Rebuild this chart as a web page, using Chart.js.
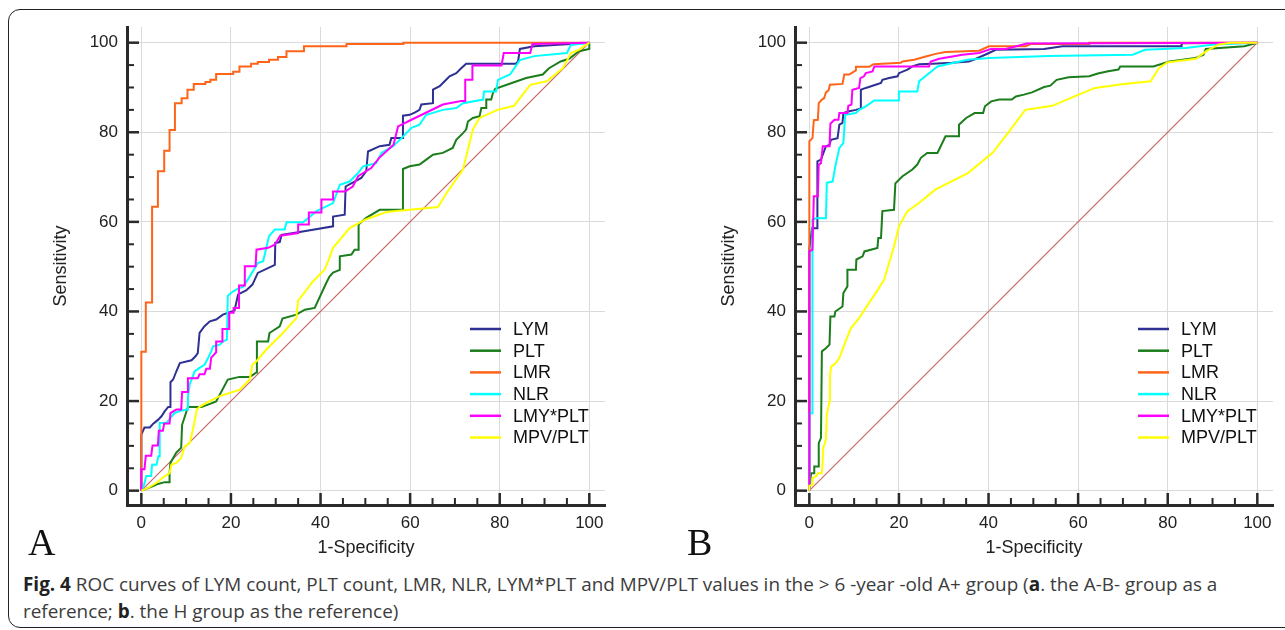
<!DOCTYPE html>
<html>
<head>
<meta charset="utf-8">
<title>ROC curves</title>
<script src="https://cdn.jsdelivr.net/npm/chart.js@4.4.1/dist/chart.umd.min.js"></script>
<style>
    html, body { margin: 0; padding: 0; width: 1285px; height: 630px; overflow: hidden; background: #fff; }
    .frame { position: absolute; left: 8px; top: 9px; width: 1320px; height: 617px; border: 1.5px solid #222; border-radius: 12px; }
    canvas { position: absolute; top: 0; }
    #chartA { left: 0; }
    #chartB { left: 668px; }
    .panel { position: absolute; top: 523px; font-family: "Liberation Serif", "Times New Roman", serif; font-size: 38px; line-height: 1; color: #111; }
    .caption { position: absolute; left: 23px; top: 571px; font-family: "Open Sans", "Noto Sans", sans-serif; font-size: 18.9px; line-height: 26.7px; color: #3c3c3c; white-space: nowrap; }
    .caption b { color: #222; }
</style>
</head>
<body>
<div class="frame"></div>
<canvas id="chartA" width="640" height="563"></canvas>
<canvas id="chartB" width="617" height="563"></canvas>
<div class="panel" style="left:28px">A</div>
<div class="panel" style="left:687px">B</div>
<div class="caption"><b>Fig. 4</b> ROC curves of LYM count, PLT count, LMR, NLR, LYM*PLT and MPV/PLT values in the &gt; 6 -year -old A+ group (<b>a</b>. the A-B- group as a<br>reference; <b>b</b>. the H group as the reference)</div>

<script>
    var tickValues = [0, 20, 40, 60, 80, 100];
    var seriesNames = ['LYM', 'PLT', 'LMR', 'NLR', 'LMY*PLT', 'MPV/PLT'];
    var seriesColors = ['#2e3192', '#1b7d1b', '#ff6519', '#00ffff', '#ff00ff', '#ffff00'];
    var diagonal = [[0, 0], [100, 100]];

    // panel A: A+ vs A-B-
    var lymA = [[0,0],[0,12.5],[0.7,14.1],[1.9,14.1],[2.6,14.9],[3.7,15.8],[4.5,16.6],[5.2,17.7],[6,18.7],[6.5,18.7],[6.5,24.2],[7.1,24.8],[7.8,26.6],[8.6,28.5],[11.2,29.1],[12.1,30],[12.6,30.7],[13,35.2],[14.1,36.7],[15.3,37.8],[16.7,38.2],[18.2,39.3],[19.6,39.8],[20.8,40.2],[21.6,43.8],[23.4,44.7],[24.8,46],[26,48.6],[29.8,50.4],[29.9,55.3],[30.9,55.5],[31.3,57.1],[35,57.7],[42.8,59],[42.8,61.2],[45.4,61.6],[45.6,67.9],[47.6,69],[49.1,69.8],[50.2,71.3],[50.6,75.7],[53.2,76.9],[55.4,77.2],[55.8,78.7],[58.4,78.7],[58.4,83.7],[59.9,83.9],[61,84.4],[62.1,85],[62.5,86.2],[65.1,86.5],[65.1,89.5],[66.6,90.3],[67.7,91.4],[68.8,92.5],[70.3,93.2],[71.4,94.3],[72.5,95.3],[83.6,95.3],[84.1,95.8],[84.5,98.6],[87.7,99.2],[95.9,99.7],[100,100]];
    var pltA = [[0,0],[1.1,0.4],[2.6,1],[3.7,1.5],[5.2,1.9],[6.3,1.9],[6.3,3.9],[6.5,6.2],[7.8,8.5],[8.9,9.6],[9.1,14.7],[10.4,18.7],[13.4,18.7],[14.9,19.2],[16.7,19.9],[19.3,24.8],[21.9,25.4],[24.2,25.4],[25.7,26.4],[25.8,33.3],[28.3,33.3],[28.6,35.2],[30.9,36.7],[31.5,38.4],[34.6,39.3],[36.5,40.4],[38.7,40.8],[41.3,46.4],[42,47.8],[42.8,48.7],[44.3,49.3],[44.3,52.3],[46.9,52.7],[47.6,53.8],[48.5,53.8],[48.5,59.4],[50.2,60.9],[53.2,62.7],[58.4,62.7],[58.4,71.8],[59.9,72.4],[62.1,72.8],[63.6,73.9],[65.1,75],[67.3,75.4],[69.5,76.5],[70.3,78.3],[71.8,79.8],[72.5,80.6],[72.9,82.4],[74,83.2],[75.5,83.6],[75.9,85.4],[77,85.4],[77,87.3],[78.1,87.3],[78.5,88.8],[79,89.7],[82.7,91],[85.9,92.1],[89.6,92.9],[91,94.3],[93.6,95.8],[95.5,96.4],[97.7,98.1],[100,98.6],[100,100]];
    var lmrA = [[0,0],[0,31],[1,31],[1,42],[2.4,42],[2.4,63.4],[3.7,63.4],[3.7,71.3],[5.1,71.3],[5.1,75.9],[6.3,75.9],[6.3,80.5],[7.5,80.5],[7.5,86.5],[9,86.5],[9,87.6],[10.3,87.6],[10.3,89.5],[11.7,89.5],[11.7,90.8],[14.3,90.8],[14.3,91.2],[15.4,91.2],[15.4,91.7],[16.7,91.7],[16.7,93],[20.5,93],[20.5,93.5],[21.9,93.5],[21.9,94.7],[24.5,94.7],[24.5,95.3],[26,95.3],[26,95.7],[28.5,95.7],[28.5,96.2],[30.5,96.2],[30.5,96.8],[32.4,96.8],[32.4,98.1],[36.3,98.1],[36.3,99.2],[45.8,99.2],[45.8,99.7],[58.5,99.7],[58.5,100],[100,100]];
    var nlrA = [[0,0],[0.6,1.3],[1.1,3.3],[2.2,3.3],[2.4,5.8],[3.4,5.8],[3.8,7.7],[4.1,7.7],[4.1,15.1],[5.6,15.1],[6.7,16.5],[7.4,17.3],[8.9,17.9],[10.4,18.1],[10.4,21],[10.8,23.7],[11.9,26.6],[13,27.4],[14.1,28.1],[14.9,29.6],[15.6,31.1],[16,32.2],[17.5,32.6],[18.2,33.3],[19.1,33.7],[19.3,43.5],[20.5,44.5],[21.6,45.1],[22.7,45.5],[24,47.5],[26,50.8],[27.2,51.2],[28.5,56.8],[29.8,58.3],[32,58.3],[32.4,59.9],[36.1,59.9],[39.1,62.4],[42.8,64.2],[44.3,68.3],[46.5,69],[48.4,70.9],[49.5,72.4],[52.4,73.1],[53.6,75.4],[56.2,76.9],[57.7,78.3],[60.3,81],[62.1,81.7],[63.6,83.9],[67.3,85],[70.3,85.4],[71.8,86.5],[76.3,87.3],[76.5,89.1],[79.2,89.1],[79.6,91.7],[82.3,92.9],[84.5,96.1],[87.7,97],[95,97.7],[95.9,99.5],[100,100]];
    var lmyPltA = [[0,0],[0,4.8],[0.7,4.8],[1,7.8],[2.2,7.8],[2.5,10.1],[3.7,10.1],[3.9,13.4],[4.8,13.4],[5.1,15],[6.3,15],[6.5,17.3],[7.8,18.1],[8.9,18.1],[9.1,22],[10.2,22],[10.4,25.1],[12.6,25.1],[13,26],[14.1,26],[14.5,27.2],[15.3,27.2],[15.6,29.7],[16.7,30.9],[16.7,33.3],[18.1,33.3],[18.1,36.1],[19.6,36.1],[19.6,39.7],[20.6,39.7],[20.6,40.8],[21.8,40.8],[21.8,45.8],[23.1,45.8],[23.1,50.1],[25.5,50.1],[25.7,53.8],[28.3,54.2],[29.8,54.9],[31,56.9],[35,57.5],[35,59.4],[37.4,59.4],[37.4,62.1],[40.2,62.1],[40.2,65],[42.8,65],[42.8,66.8],[45.5,66.8],[47.2,67.9],[48.4,70.2],[51.3,72],[53.1,74.3],[56.3,77.2],[57.3,81.3],[60.3,82.8],[67.3,86.2],[71.4,87],[72.3,87],[72.3,91.7],[73.9,91.7],[73.9,94.9],[80.4,94.9],[80.9,97.7],[86.8,97.7],[87.3,99.7],[100,100]];
    var mpvPltA = [[0,0],[1.5,0.6],[3.3,1.7],[5.2,3.2],[6.3,3.9],[6.7,5.8],[7.8,6.2],[8.9,7.3],[9.7,9.9],[10.8,10.6],[11.5,13.6],[12.4,18.1],[13,18.7],[14.5,19.6],[17.5,21.1],[21.9,22.5],[24.2,24.8],[24.8,28.1],[25.7,28.9],[27.9,31.5],[31.6,35.2],[34.6,38.5],[35,42.4],[38.3,46.7],[40.9,49.3],[42,52],[42.8,54.2],[46.5,58.6],[50.2,60.6],[54.7,62.2],[66.2,63.3],[68.1,66.4],[71.8,71.7],[74,80.6],[75.5,83.2],[79.5,85],[83.2,85.9],[86.8,90.6],[90.5,91.4],[94.1,94.3],[95.9,97.7],[97.7,98.4],[100,100]];

    // panel B: A+ vs H
    var lymB = [[0,0],[0,54],[0.6,58.6],[1.8,58.6],[1.8,73.5],[2.6,73.9],[3.7,76.9],[4.5,77.2],[4.8,78.3],[6.3,78.7],[6.7,81.7],[7.4,82.1],[7.6,84.3],[8.9,84.7],[10.4,85],[11.5,85.3],[11.5,89.5],[12.6,89.9],[14.8,90.6],[16,91],[16.3,91.7],[17.8,92.1],[19.7,92.5],[20,93.2],[21.9,94],[23,94.7],[24.5,95.2],[27.5,95.3],[31.9,95.5],[35.6,95.8],[36.7,96.2],[40.1,97.7],[41.6,98.4],[52.4,98.6],[56.5,99.2],[83.1,99.2],[83.1,99.9],[100,100]];
    var pltB = [[0,0],[0.4,3.9],[1.1,3.9],[1.1,5.4],[2.1,5.4],[2.1,10.6],[2.6,11.8],[2.8,31.1],[3.7,31.8],[4.5,32.6],[4.7,38.9],[5.6,38.9],[5.8,40],[7.4,41.1],[7.6,44.1],[8.5,45.6],[8.5,49.3],[10.4,49.3],[10.5,51.6],[11.9,52.3],[12.3,53.4],[15.2,54.2],[15.4,56.4],[16,56.4],[16.3,62.4],[18.9,62.7],[19.2,68.6],[20.8,70.2],[23,71.7],[24.1,72.8],[24.9,74.3],[26.3,75.4],[28.6,75.4],[30.4,79.1],[33.2,79.1],[33.4,81.7],[35,83.2],[36.9,84.3],[38.8,84.3],[39.2,85.8],[40.6,86.9],[42.4,87.3],[45.2,87.3],[46.1,88],[47.9,88.4],[49.7,88.9],[52.4,90.1],[53.8,90.4],[55.2,91.7],[57.9,92.3],[62.5,92.5],[64.4,93.1],[66.7,93.6],[69,94],[69.4,94.7],[76.8,94.7],[80.4,95.8],[86.2,96.6],[88,97.3],[88.5,98.6],[97.1,99.2],[100,100]];
    var lmrB = [[0,0],[0,78],[0.7,78.7],[1,82.7],[1.9,82.8],[2.1,86.5],[2.8,87.3],[3.3,87.6],[3.7,88.9],[4.3,89.4],[4.6,90.6],[7.4,90.8],[7.8,92.9],[8.9,92.9],[10.4,93.8],[10.4,94.6],[13.4,94.6],[14.3,95.2],[20.4,95.5],[20.8,95.8],[23.4,96.2],[26,96.9],[28.2,97.5],[30.4,97.9],[37.9,98.2],[40.1,99.2],[48.3,99.2],[49.4,99.7],[62.5,99.7],[62.5,100],[100,100]];
    var nlrB = [[0,0],[0,17.3],[0.7,17.3],[0.7,60.5],[1.5,60.8],[3.7,60.8],[3.9,68.7],[5.2,69],[5.8,72.4],[6.7,76.5],[7.6,77.6],[8,83.9],[10.4,84.3],[11.1,85],[12.6,85.8],[14.5,87.1],[20,87.1],[20,89.1],[24.1,89.1],[24.5,91.4],[28.6,94.7],[35.3,96.2],[40.1,96.6],[53.5,97],[72.2,97.3],[74.9,98.4],[84,98.8],[90.4,99.6],[97.7,99.9],[100,100]];
    var lmyPltB = [[0,0],[0,53.4],[0.7,53.8],[1,65.7],[1.9,65.7],[2.1,72.8],[2.6,73.1],[3,76.9],[4.5,76.9],[4.7,81.9],[5.6,82.8],[6.5,82.8],[6.7,84.3],[8.5,84.3],[8.7,85.9],[9.4,86.2],[9.6,89.5],[11.1,89.9],[11.4,92.1],[12.2,92.5],[12.6,93.2],[14.1,93.6],[14.5,94.7],[26.7,94.7],[27.1,95.8],[29,96.4],[34.2,97.3],[37.9,97.7],[40.5,98.6],[43.8,98.6],[48.6,99.8],[100,100]];
    var mpvPltB = [[0,0],[0,1.1],[0.7,1.3],[0.7,2.8],[1.5,3.2],[1.9,3.9],[2.8,3.9],[3,6.9],[3.1,9.5],[3.7,11.4],[3.9,17],[4.5,19.9],[4.6,25.1],[4.8,27.6],[5.9,28.5],[6.7,29.6],[7.8,32.6],[9.3,36.3],[11.1,38.5],[12.6,40.8],[14.8,44.1],[16.7,47.1],[18.9,54.5],[20,59],[21.9,62.4],[24.5,64.2],[28.1,67.2],[35.4,70.9],[40.9,75.4],[44.6,80.2],[48.2,85],[54.2,85.9],[59.2,88],[63.8,89.9],[70.2,90.8],[76.2,91.4],[78,94.3],[79.9,95.6],[86.3,96.4],[88.6,98.1],[91.4,99.6],[94.1,100],[100,100]];

    var axisFont = '"Liberation Sans", Arial, sans-serif';

    // inward tick marks and the legend box inside the plot
    var rocDecor = {
        id: 'rocDecor',
        afterDraw: function (chart) {
            var ctx = chart.ctx;
            var area = chart.chartArea;
            var xs = chart.scales.x;
            var ys = chart.scales.y;
            ctx.save();
            ctx.fillStyle = '#2a2a2a';
            for (var v = 0; v <= 100; v += 5) {
                var major = v % 20 === 0;
                var len = major ? 12 : 7;
                var w = major ? 2.5 : 2;
                var px = xs.getPixelForValue(v);
                ctx.fillRect(px - w / 2, area.bottom - len, w, len);
                var py = ys.getPixelForValue(v);
                ctx.fillRect(area.left, py - w / 2, len, w);
            }

            ctx.font = '18px ' + axisFont;
            ctx.textBaseline = 'middle';
            chart.data.datasets.filter(d => seriesNames.indexOf(d.label) >= 0).forEach((d, i) => {
                var y = area.top + 302 + i * 21.7;
                ctx.strokeStyle = d.borderColor;
                ctx.lineWidth = 2.5;
                ctx.beginPath();
                ctx.moveTo(area.left + 343, y);
                ctx.lineTo(area.left + 374, y);
                ctx.stroke();
                ctx.fillStyle = '#111';
                ctx.fillText(d.label, area.left + 386, y + 1);
            });
            ctx.restore();
        }
    };

    function axisOptions(title, isX) {
        return {
            type: 'linear',
            min: -3.2,
            max: 103.5,
            afterBuildTicks: function (scale) {
                scale.ticks = tickValues.map(v => ({ value: v }));
            },
            afterFit: function (scale) {
                if (isX) scale.height = 58; else scale.width = 80;
            },
            grid: { color: '#dadada', lineWidth: 1, drawTicks: false },
            border: { display: true, color: '#2a2a2a', width: 3 },
            ticks: {
                padding: isX ? 8 : 9,
                color: '#222',
                autoSkip: false,
                maxRotation: 0,
                font: { family: axisFont, size: 17 }
            },
            title: {
                display: true,
                text: title,
                color: '#222',
                padding: { top: 3, bottom: 4 },
                font: { family: axisFont, size: 18 }
            }
        };
    }

    function renderRoc(canvasId, series, rightPad) {
        var datasets = series.map((pts, i) => ({
            label: seriesNames[i],
            data: pts.map(p => ({ x: p[0], y: p[1] })),
            borderColor: seriesColors[i],
            borderWidth: 2,
            showLine: true,
            pointRadius: 0,
            tension: 0,
            fill: false,
            order: series.length - i
        }));
        datasets.push({
            label: 'reference',
            data: diagonal.map(p => ({ x: p[0], y: p[1] })),
            borderColor: '#c86464',
            borderWidth: 1.2,
            showLine: true,
            pointRadius: 0,
            order: 20
        });

        return new Chart(document.getElementById(canvasId), {
            type: 'scatter',
            data: { datasets: datasets },
            options: {
                responsive: false,
                animation: false,
                devicePixelRatio: 1,
                layout: { padding: { left: 47, top: 27, right: rightPad, bottom: 0 } },
                plugins: { legend: { display: false }, tooltip: { enabled: false } },
                scales: {
                    x: axisOptions('1-Specificity', true),
                    y: axisOptions('Sensitivity', false)
                }
            },
            plugins: [rocDecor]
        });
    }

    renderRoc('chartA', [lymA, pltA, lmrA, nlrA, lmyPltA, mpvPltA], 35);
    renderRoc('chartB', [lymB, pltB, lmrB, nlrB, lmyPltB, mpvPltB], 12);
</script>
</body>
</html>
